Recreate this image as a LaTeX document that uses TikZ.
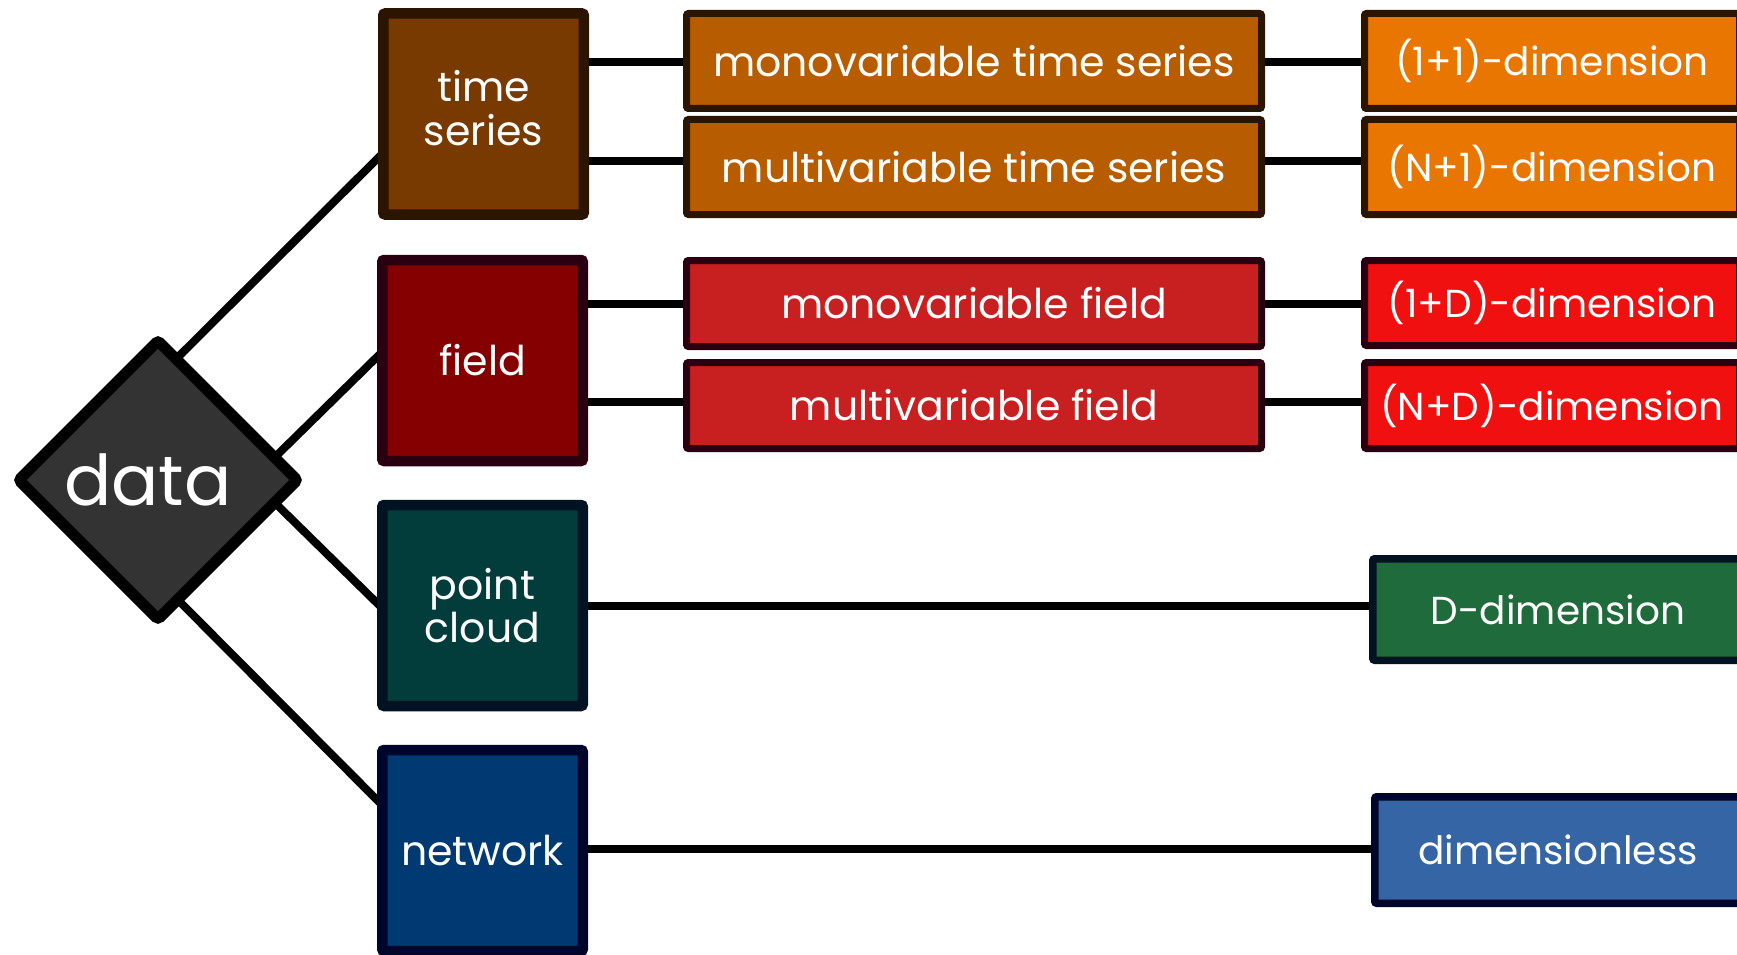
\documentclass[tikz,border=0pt]{standalone}
\usepackage{fontspec}
\setmainfont{Poppins}
\usetikzlibrary{shapes.geometric,calc}
\pgfdeclarelayer{paper}
\pgfdeclarelayer{bg}
\pgfsetlayers{paper,bg,main}
\definecolor{diafill}{HTML}{333333}
\definecolor{tsfill}{HTML}{783A00}
\definecolor{tsbord}{HTML}{2B1500}
\definecolor{fdfill}{HTML}{850000}
\definecolor{fdbord}{HTML}{2A0010}
\definecolor{pcfill}{HTML}{023D3B}
\definecolor{pcbord}{HTML}{011322}
\definecolor{nwfill}{HTML}{013A72}
\definecolor{nwbord}{HTML}{00052C}
\definecolor{mofill}{HTML}{B85C00}
\definecolor{mrfill}{HTML}{C82020}
\definecolor{rofill}{HTML}{E87600}
\definecolor{rrfill}{HTML}{F01010}
\definecolor{rgfill}{HTML}{1F6B3B}
\definecolor{rbfill}{HTML}{3565A5}
\tikzset{
  txt/.style={text=white,font=\fontsize{41}{43}\selectfont,align=center,inner sep=0pt},
  bigbox/.style={txt,draw=#1,line width=10.5pt,rounded corners=2pt,minimum width=200.5pt,minimum height=201pt},
  midbox/.style={txt,draw=#1,line width=7pt,rounded corners=2pt,minimum width=575pt},
  rbox/.style={txt,font=\fontsize{39}{43}\selectfont,draw=#1,line width=7.5pt,rounded corners=2pt},
  link/.style={line width=8pt,black}
}
\begin{document}
\begin{tikzpicture}[x=1pt,y=-1pt]
\useasboundingbox (0,0) rectangle (1737,955);
\clip (0,0) rectangle (1737,955);
\begin{pgfonlayer}{paper}
\fill[white] (0,0) rectangle (1737,955);
\end{pgfonlayer}
% level 0
\node[diamond,aspect=1,draw=black,fill=diafill,line width=11pt,rounded corners=3pt,
      minimum width=283pt,minimum height=283pt,inner sep=0pt,text=white,
      font=\fontsize{70}{80}\selectfont] (data) at (158,480) {\hspace*{-20pt}data};
% level 1
\node[bigbox=tsbord,fill=tsfill] (ts) at (483.5,114) {\raisebox{6pt}{\begin{tabular}{@{}c@{}}time\\series\end{tabular}}};
\node[bigbox=fdbord,fill=fdfill] (fd) at (482.5,360.5) {field};
\node[bigbox=pcbord,fill=pcfill] (pc) at (482.5,605.5) {point\\cloud};
\node[bigbox=nwbord,fill=nwfill] (nw) at (482.5,850.5) {network};
% level 2
\node[midbox=tsbord,fill=mofill,minimum height=95pt] (mts) at (974,61) {monovariable time series};
\node[midbox=tsbord,fill=mofill,minimum height=95pt] (mvts) at (974,167) {multivariable time series};
\node[midbox=fdbord,fill=mrfill,minimum height=86pt] (mf) at (974,303.5) {monovariable field};
\node[midbox=fdbord,fill=mrfill,minimum height=86pt] (mvf) at (974,405.5) {multivariable field};
% level 3
\node[rbox=tsbord,fill=rofill,line width=7pt,minimum width=375pt,minimum height=95pt] (r1) at (1552,61) {(1+1)-dimension};
\node[rbox=tsbord,fill=rofill,line width=7pt,minimum width=375pt,minimum height=95pt] (r2) at (1552,167) {(N+1)-dimension};
\node[rbox=fdbord,fill=rrfill,line width=7pt,minimum width=375pt,minimum height=85pt] (r3) at (1552,303) {(1+D)-dimension};
\node[rbox=fdbord,fill=rrfill,line width=7pt,minimum width=375pt,minimum height=86pt] (r4) at (1552,405.5) {(N+D)-dimension};
\node[rbox=pcbord,fill=rgfill,minimum width=370.5pt,minimum height=101.5pt] (r5) at (1558,609.5) {D-dimension};
\node[rbox=nwbord,fill=rbfill,minimum width=366.5pt,minimum height=106.5pt] (r6) at (1558,850) {dimensionless};
% levels of the horizontal links
\coordinate (l1) at (0,62);
\coordinate (l2) at (0,161);
\coordinate (l3) at (0,304);
\coordinate (l4) at (0,402);
\coordinate (l5) at (0,606);
\coordinate (l6) at (0,849);
\begin{pgfonlayer}{bg}
\draw[link] ($(ts.west)+(3,41)$) -- ($(data.north)!0.15!(data.east)+(-6,6)$);
\draw[link] ($(fd.west)+(3,-6.5)$) -- ($(data.north)!0.82!(data.east)+(-6,6)$);
\draw[link] ($(pc.west)+(3,0.5)$) -- ($(data.south)!0.82!(data.east)+(-6,-6)$);
\draw[link] ($(nw.west)+(3,-47.5)$) -- ($(data.south)!0.16!(data.east)+(-6,-6)$);
\draw[link] (ts.center |- l1) -- (r1.center |- l1);
\draw[link] (ts.center |- l2) -- (r2.center |- l2);
\draw[link] (fd.center |- l3) -- (r3.center |- l3);
\draw[link] (fd.center |- l4) -- (r4.center |- l4);
\draw[link] (pc.center |- l5) -- (r5.center |- l5);
\draw[link] (nw.center |- l6) -- (r6.center |- l6);
\end{pgfonlayer}
\end{tikzpicture}
\end{document}
